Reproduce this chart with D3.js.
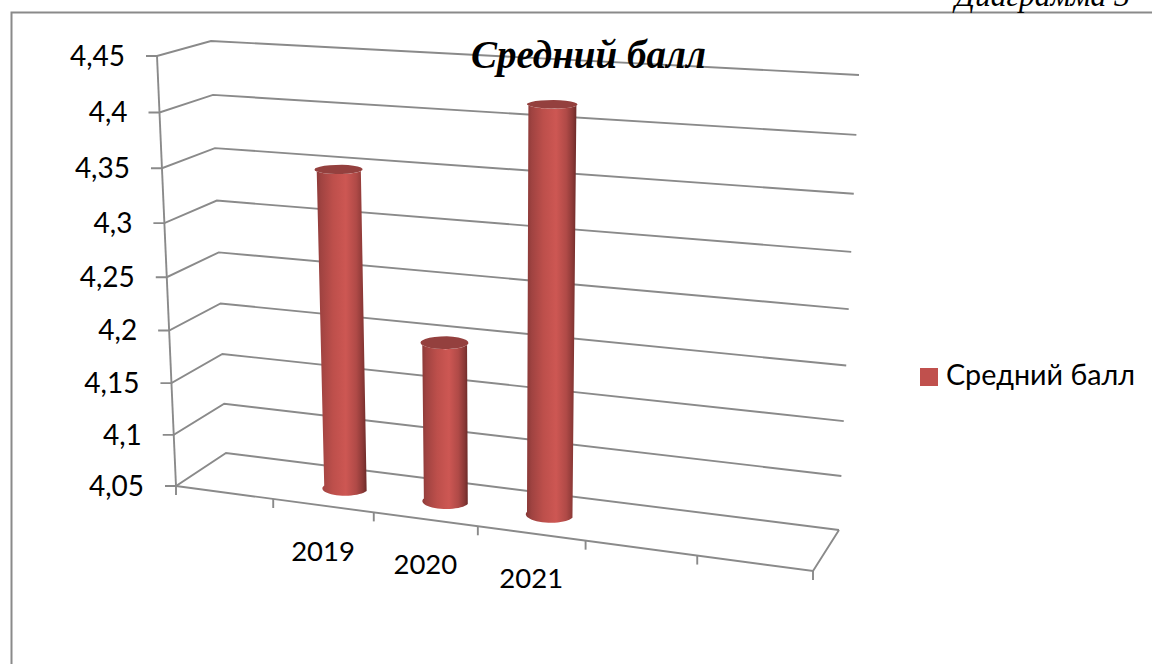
<!DOCTYPE html>
<html>
<head>
<meta charset="utf-8">
<script src="https://cdn.jsdelivr.net/npm/d3@7"></script>
<style>
    html, body { margin: 0; padding: 0; background: #fff; overflow: hidden; }
    text { fill: #000; font-family: Lato, "Noto Sans", sans-serif; }
</style>
</head>
<body>
<svg id="chart" width="1152" height="664"></svg>
<script>
// chart values
const categories = ["", "2019", "2020", "2021", " ", "  "];
const years = ["2019", "2020", "2021"];
const scores = [4.35, 4.2, 4.42];
const yTicks = [4.05, 4.1, 4.15, 4.2, 4.25, 4.3, 4.35, 4.4, 4.45];
const yTickLabels = ["4,05", "4,1", "4,15", "4,2", "4,25", "4,3", "4,35", "4,4", "4,45"];
const seriesName = "Средний балл";

const svg = d3.select("#chart");
const axisColor = "#8a8a8a";

// maps the unit square onto a screen quad, gives the 3d box its perspective
function quadMap(p00, p10, p11, p01) {
    const dx1 = p10[0] - p11[0], dx2 = p01[0] - p11[0], sx = p00[0] - p10[0] + p11[0] - p01[0];
    const dy1 = p10[1] - p11[1], dy2 = p01[1] - p11[1], sy = p00[1] - p10[1] + p11[1] - p01[1];
    const den = dx1 * dy2 - dx2 * dy1;
    const g = (sx * dy2 - dx2 * sy) / den;
    const h = (dx1 * sy - sx * dy1) / den;
    const a = p10[0] - p00[0] + g * p10[0], b = p01[0] - p00[0] + h * p01[0];
    const d = p10[1] - p00[1] + g * p10[1], e = p01[1] - p00[1] + h * p01[1];
    return (u, v) => {
        const q = g * u + h * v + 1;
        return [(a * u + b * v + p00[0]) / q, (d * u + e * v + p00[1]) / q];
    };
}

// front and back faces of the chart box: bottom-left, bottom-right, top-right, top-left
const frontFace = quadMap([176, 486], [813, 571], [834, 96], [157, 56]);
const backFace = quadMap([226, 453], [839, 530], [859, 75], [211, 41]);

// w = 0 is the front of the box, w = 1 the back wall
function project(u, v, w) {
    const f = frontFace(u, v), b = backFace(u, v);
    return [f[0] + (b[0] - f[0]) * w, f[1] + (b[1] - f[1]) * w];
}

const xScale = d3.scaleBand().domain(categories).range([0, 1]);
const yScale = d3.scaleLinear().domain([4.05, 4.45]).range([0, 1]);
const line = d3.line();

function drawLine(points, width) {
    svg.append("path")
        .attr("d", line(points))
        .attr("fill", "none")
        .attr("stroke", axisColor)
        .attr("stroke-width", width || 1.9);
}

// page frame, only top and left are inside the picture
svg.append("path")
    .attr("d", "M11.5,664V12.5H1152")
    .attr("fill", "none")
    .attr("stroke", axisColor)
    .attr("stroke-width", 2);

svg.append("text")
    .attr("x", 1130)
    .attr("y", 6)
    .attr("text-anchor", "end")
    .style("font-family", "'Liberation Serif', serif")
    .style("font-style", "italic")
    .style("font-size", "31.5px")
    .text("Диаграмма 3");

// gridlines on the left and back walls
yTicks.forEach((t, i) => {
    const v = yScale(t);
    const front = project(0, v, 0);
    drawLine([[front[0] - 11, front[1]], front, project(0, v, 1), project(1, v, 1)]);
    svg.append("text")
        .attr("x", front[0] - 32)
        .attr("y", front[1])
        .attr("dy", "0.35em")
        .attr("text-anchor", "end")
        .style("font-size", "28px")
        .text(yTickLabels[i]);
});

// value axis and floor outline
drawLine([project(0, 1, 0), project(0, 0, 0)]);
drawLine([project(0, 0, 0), project(1, 0, 0), project(1, 0, 1)]);

// category ticks, one band more than there are labels
d3.range(categories.length + 1).forEach(i => {
    const p = project(i / categories.length, 0, 0);
    drawLine([p, [p[0], p[1] + 9]]);
});

years.forEach(year => {
    const p = project(xScale(year) + xScale.bandwidth() / 2, 0, 0);
    svg.append("text")
        .attr("x", p[0])
        .attr("y", p[1] + 55)
        .attr("text-anchor", "middle")
        .style("font-size", "27.5px")
        .text(year);
});

// cylinder shading
const defs = svg.append("defs");
const grad = defs.append("linearGradient").attr("id", "cyl").attr("x1", 0).attr("x2", 1).attr("y1", 0).attr("y2", 0);
[[0, "#853735"], [0.12, "#a04341"], [0.35, "#bd4f4b"], [0.6, "#cd5753"], [0.8, "#b04a47"], [0.93, "#8a3836"], [1, "#6c2a28"]]
    .forEach(s => grad.append("stop").attr("offset", s[0]).attr("stop-color", s[1]));

const radiusU = 0.43 * xScale.bandwidth() / 2;
const radiusW = 0.2;
const barDepth = 0.5;

// one ring of the cylinder in box coordinates
function ring(uc, v, from, to) {
    return d3.range(0, 25).map(i => {
        const t = from + (to - from) * i / 24;
        return project(uc + radiusU * Math.cos(t), v, barDepth + radiusW * Math.sin(t));
    });
}

years.forEach((year, i) => {
    const uc = xScale(year) + xScale.bandwidth() / 2;
    const vTop = yScale(scores[i]);
    const bottomArc = ring(uc, 0, 0, -Math.PI);
    const topArc = ring(uc, vTop, -Math.PI, 0);

    svg.append("path")
        .attr("d", line(bottomArc.concat(topArc)) + "Z")
        .attr("fill", "url(#cyl)");

    svg.append("path")
        .attr("d", line(ring(uc, vTop, 0, 2 * Math.PI)) + "Z")
        .attr("fill", "#94403e");
});

// title
svg.append("text")
    .attr("x", 588.5)
    .attr("y", 68)
    .attr("text-anchor", "middle")
    .style("font-family", "'Liberation Serif', serif")
    .style("font-style", "italic")
    .style("font-weight", "bold")
    .style("font-size", "39px")
    .text(seriesName);

// legend
svg.append("rect")
    .attr("x", 920)
    .attr("y", 368)
    .attr("width", 18)
    .attr("height", 18)
    .attr("fill", "#c0504d");

svg.append("text")
    .attr("x", 946)
    .attr("y", 385)
    .style("font-size", "28.7px")
    .text(seriesName);
</script>
</body>
</html>
